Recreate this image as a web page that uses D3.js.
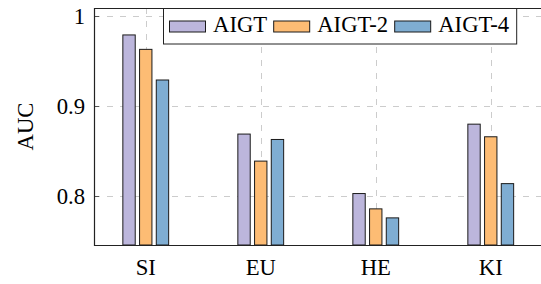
<!DOCTYPE html>
<html>
<head>
<meta charset="utf-8">
<script src="https://cdn.jsdelivr.net/npm/d3@7"></script>
<style>
  body { margin: 0; background: #fff; }
  text { font-family: "Liberation Serif", "Times New Roman", Times, serif; fill: #000; }
</style>
</head>
<body>
<svg id="chart" width="541" height="284"></svg>
<script>
// data
var categories = ["SI", "EU", "HE", "KI"]
var series = ["AIGT", "AIGT-2", "AIGT-4"]
var aigt = [0.979, 0.869, 0.803, 0.880]
var aigt2 = [0.963, 0.839, 0.786, 0.866]
var aigt4 = [0.929, 0.863, 0.776, 0.814]
var yTicks = [0.8, 0.9, 1]
var yTickLabels = ["0.8", "0.9", "1"]

var colors = ["#bcb6dc", "#fdbc74", "#7fadd2"]
var values = [aigt, aigt2, aigt4]

var LEFT = 94, RIGHT = 542.5, TOP = 8, BOTTOM = 245
var FONT = 22.7

var svg = d3.select("#chart")

var x = d3.scalePoint()
  .domain(categories)
  .range([LEFT, RIGHT])
  .padding(0.45)

var xSub = d3.scaleBand()
  .domain(series)
  .range([-22.9, 22.9])
  .paddingInner(0.26)

var y = d3.scaleLinear()
  .domain([0.7459, 1.0089])
  .range([BOTTOM, TOP])

// grid
var grid = svg.append("g")
  .attr("stroke", "#cccccc")
  .attr("stroke-width", 1)
  .attr("stroke-dasharray", "6,7")

grid.selectAll(".hgrid")
  .data(yTicks)
.enter().append("line")
  .attr("class", "hgrid")
  .attr("x1", LEFT)
  .attr("x2", RIGHT)
  .attr("y1", function(d) { return Math.round(y(d)) + 0.5 })
  .attr("y2", function(d) { return Math.round(y(d)) + 0.5 })

grid.selectAll(".vgrid")
  .data(categories)
.enter().append("line")
  .attr("class", "vgrid")
  .attr("x1", function(d) { return Math.round(x(d)) + 0.5 })
  .attr("x2", function(d) { return Math.round(x(d)) + 0.5 })
  .attr("y1", TOP)
  .attr("y2", BOTTOM)

// ticks on the left axis (pointing inside)
svg.selectAll(".ytick")
  .data(yTicks)
.enter().append("line")
  .attr("class", "ytick")
  .attr("stroke", "#555")
  .attr("x1", LEFT)
  .attr("x2", LEFT + 5)
  .attr("y1", function(d) { return Math.round(y(d)) + 0.5 })
  .attr("y2", function(d) { return Math.round(y(d)) + 0.5 })

// bars
series.forEach(function(s, i) {
  svg.selectAll(".bar" + i)
    .data(categories)
  .enter().append("rect")
    .attr("class", "bar" + i)
    .attr("fill", colors[i])
    .attr("stroke", "#1a1a1a")
    .attr("stroke-width", 1)
    .attr("x", function(c) { return x(c) + xSub(s) })
    .attr("width", xSub.bandwidth())
    .attr("y", function(c, j) { return y(values[i][j]) })
    .attr("height", function(c, j) { return BOTTOM - y(values[i][j]) })
})

// frame: left, top, bottom (right edge falls outside the picture)
svg.append("path")
  .attr("fill", "none")
  .attr("stroke", "#222")
  .attr("stroke-width", 1.2)
  .attr("d", "M" + RIGHT + "," + (TOP + 0.5) + "H" + (LEFT + 0.5) +
    "V" + (BOTTOM + 0.5) + "H" + RIGHT)

// tick labels
svg.selectAll(".ylabel")
  .data(yTicks)
.enter().append("text")
  .attr("class", "ylabel")
  .attr("text-anchor", "end")
  .attr("font-size", FONT)
  .attr("x", 85)
  .attr("y", function(d) { return y(d) + 8 })
  .text(function(d, i) { return yTickLabels[i] })

svg.selectAll(".xlabel")
  .data(categories)
.enter().append("text")
  .attr("class", "xlabel")
  .attr("text-anchor", "middle")
  .attr("font-size", FONT)
  .attr("x", function(d) { return x(d) })
  .attr("y", 275)
  .text(function(d) { return d })

svg.append("text")
  .attr("text-anchor", "middle")
  .attr("font-size", FONT)
  .attr("transform", "translate(33," + ((TOP + BOTTOM) / 2) + ") rotate(-90)")
  .text("AUC")

// legend
var legend = svg.append("g")
var box = legend.append("rect")
  .attr("fill", "#fff")
  .attr("stroke", "#222")
  .attr("stroke-width", 1)
  .attr("y", 8.5)
  .attr("height", 35.5)

var lx = 169.5
series.forEach(function(s, i) {
  legend.append("rect")
    .attr("x", lx)
    .attr("y", 21)
    .attr("width", 36)
    .attr("height", 11)
    .attr("fill", colors[i])
    .attr("stroke", "#1a1a1a")
  lx += 36 + 7.5
  var t = legend.append("text")
    .attr("x", lx)
    .attr("y", 31.7)
    .attr("font-size", FONT)
    .text(s)
  lx += t.node().getComputedTextLength() + 6.5
})
box.attr("x", 163.5).attr("width", lx - 163.5 + 1)
</script>
</body>
</html>
